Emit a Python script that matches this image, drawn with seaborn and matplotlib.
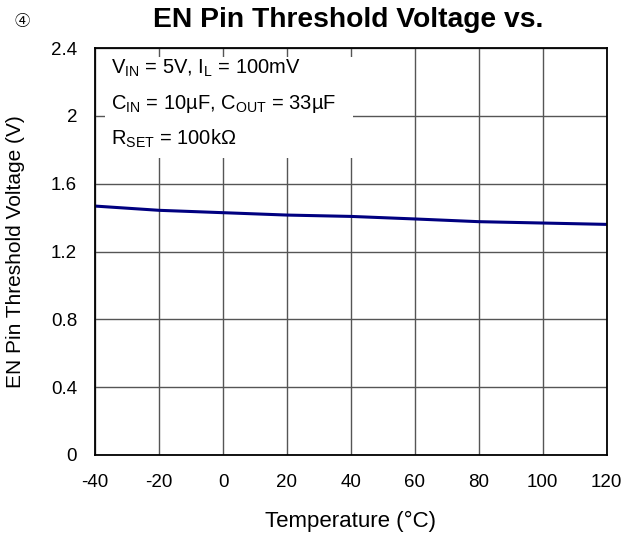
import matplotlib
matplotlib.use("Agg")
import matplotlib.pyplot as plt
import matplotlib.patches as mpatches
import seaborn as sns
import pandas as pd

sns.set_theme(style="white")
plt.rcParams["font.family"] = ["Liberation Sans", "Noto Sans CJK SC", "DejaVu Sans"]
plt.rcParams["mathtext.fontset"] = "custom"
plt.rcParams["mathtext.rm"] = "Liberation Sans"
plt.rcParams["axes.unicode_minus"] = False
plt.rcParams["text.color"] = "black"
plt.rcParams["axes.labelcolor"] = "black"

temperature = [-40, -20, 0, 20, 40, 60, 80, 100, 120]
threshold_v = [1.468, 1.443, 1.429, 1.415, 1.407, 1.392, 1.376, 1.368, 1.360]
x_ticks = [-40, -20, 0, 20, 40, 60, 80, 100, 120]
y_ticks = [0, 0.4, 0.8, 1.2, 1.6, 2.0, 2.4]
y_tick_labels = ["0", "0.4", "0.8", "1.2", "1.6", "2", "2.4"]
conditions = [
    r"V$_{\mathregular{IN}}$ = 5V, I$_{\mathregular{L}}$ = 100mV",
    r"C$_{\mathregular{IN}}$ = 10µF, C$_{\mathregular{OUT}}$ = 33µF",
    r"R$_{\mathregular{SET}}$ = 100kΩ",
]

df = pd.DataFrame({"Temperature": temperature, "Threshold": threshold_v})

fig = plt.figure(figsize=(6.3, 5.34), dpi=100)
ax = fig.add_axes([0.151, 0.148, 0.812, 0.762])

sns.lineplot(data=df, x="Temperature", y="Threshold", ax=ax,
             color="#000080", linewidth=2.2)

ax.set_xlim(-40, 120)
ax.set_ylim(0, 2.4)
ax.set_xticks(x_ticks)
ax.set_yticks(y_ticks)
ax.set_yticklabels(y_tick_labels)
ax.tick_params(axis="both", labelsize=13.5, length=0, colors="black")
ax.tick_params(axis="x", pad=14)
ax.tick_params(axis="y", pad=13)
ax.grid(True, color="#555555", linewidth=1.0)
for s in ax.spines.values():
    s.set_color("black")
    s.set_linewidth(1.3)

ax.set_xlabel("Temperature (°C)", fontsize=16)
ax.set_ylabel("EN Pin Threshold Voltage (V)", fontsize=15)
ax.xaxis.set_label_coords(0.5, -0.138)
ax.yaxis.set_label_coords(-0.137, 0.5)

# white panel behind the test conditions
ax.add_patch(mpatches.Rectangle((-36.9, 1.75), 77.5, 0.60, transform=ax.transData,
                                facecolor="white", edgecolor="none", zorder=4))
for i, txt in enumerate(conditions):
    ax.text(-35.0, 2.28 - i * 0.207, txt, fontsize=14.5, va="center", ha="left",
            zorder=5)

fig.text(0.553, 0.962, "EN Pin Threshold Voltage vs.", fontsize=20.3,
         fontweight="bold", ha="center", va="center")
fig.text(0.035, 0.958, "④", fontsize=11, ha="center", va="center")

fig.savefig("out.png", dpi=100)
